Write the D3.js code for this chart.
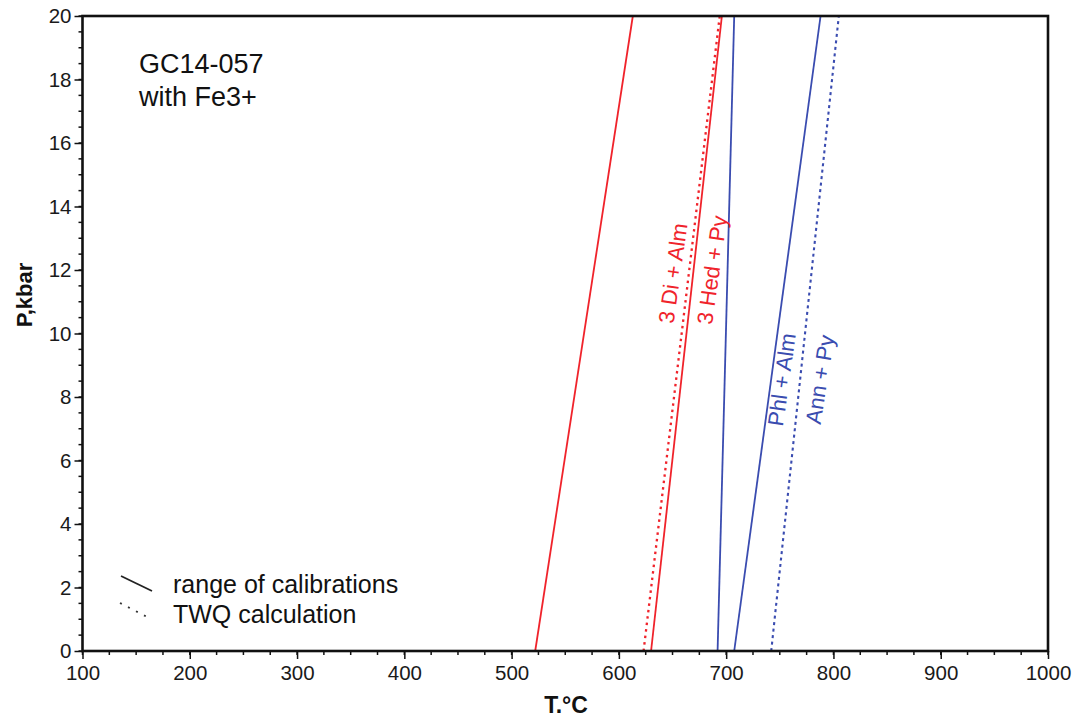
<!DOCTYPE html>
<html>
<head>
<meta charset="utf-8">
<script src="https://cdn.jsdelivr.net/npm/d3@7"></script>
<style>
  html, body { margin: 0; padding: 0; background: #fff; }
  svg { display: block; font-family: "Liberation Sans", Arial, sans-serif; }
</style>
</head>
<body>
<svg id="chart" width="1076" height="719"></svg>
<script>
// Pressure end points (kbar) shared by every equilibrium line
const pressures = [0, 20];

// Temperature (°C) of each reaction line at P = 0 and P = 20 kbar
const cpxGrtLow   = [522, 613];    // Di/Hed – Alm/Py, lower bound of calibrations
const cpxGrtHigh  = [630, 696];    // Di/Hed – Alm/Py, upper bound of calibrations
const cpxGrtTWQ   = [623, 694];    // Di/Hed – Alm/Py, TWQ
const biotGrtLow  = [692, 707.5];  // Phl/Ann – Alm/Py, lower bound
const biotGrtHigh = [707.5, 788];  // Phl/Ann – Alm/Py, upper bound
const biotGrtTWQ  = [742, 805];    // Phl/Ann – Alm/Py, TWQ

// Axis ticks
const xTicks = [100, 200, 300, 400, 500, 600, 700, 800, 900, 1000];
const yTicks = [0, 2, 4, 6, 8, 10, 12, 14, 16, 18, 20];

const RED = "#f0232b";
const BLUE = "#3a4cb0";

const series = [
  { temps: cpxGrtLow,   color: RED,  dash: null,    width: 1.8 },
  { temps: cpxGrtTWQ,   color: RED,  dash: "2.5,4", width: 2.3 },
  { temps: cpxGrtHigh,  color: RED,  dash: null,    width: 1.8 },
  { temps: biotGrtLow,  color: BLUE, dash: null,    width: 1.8 },
  { temps: biotGrtHigh, color: BLUE, dash: null,    width: 1.8 },
  { temps: biotGrtTWQ,  color: BLUE, dash: "3,3.5", width: 2.1 }
];

const svg = d3.select("#chart");
const W = 1076, H = 719;
const margin = { top: 16, right: 28, bottom: 68, left: 82.5 };
const iw = W - margin.left - margin.right;
const ih = H - margin.top - margin.bottom;

const x = d3.scaleLinear().domain([100, 1000]).range([0, iw]);
const y = d3.scaleLinear().domain([0, 20]).range([ih, 0]);

const g = svg.append("g").attr("transform", `translate(${margin.left},${margin.top})`);

// Minor ticks
g.append("g").selectAll("line").data(d3.range(100, 1000.1, 25))
  .join("line")
  .attr("x1", d => x(d)).attr("x2", d => x(d))
  .attr("y1", ih).attr("y2", ih + 4)
  .attr("stroke", "#111").attr("stroke-width", 1.5);
g.append("g").selectAll("line").data(d3.range(0, 20.01, 0.5))
  .join("line")
  .attr("x1", 0).attr("x2", -4)
  .attr("y1", d => y(d)).attr("y2", d => y(d))
  .attr("stroke", "#111").attr("stroke-width", 1.5);

// Axes
const xAxis = g.append("g").attr("transform", `translate(0,${ih})`)
  .call(d3.axisBottom(x).tickValues(xTicks).tickSize(8).tickPadding(6).tickFormat(d3.format("d")));
const yAxis = g.append("g")
  .call(d3.axisLeft(y).tickValues(yTicks).tickSize(8).tickPadding(3).tickFormat(d3.format("d")));
[xAxis, yAxis].forEach(a => {
  a.select(".domain").remove();
  a.selectAll(".tick line").attr("stroke", "#111").attr("stroke-width", 1.5);
  a.selectAll(".tick text").attr("fill", "#1a1a1a").style("font-size", "20.5px")
    .style("font-family", "'Liberation Sans', Arial, sans-serif");
});

// Reaction lines
const line = d3.line().x(d => x(d[0])).y(d => y(d[1]));
g.append("g").selectAll("path").data(series)
  .join("path")
  .attr("d", s => line(s.temps.map((t, i) => [t, pressures[i]])))
  .attr("fill", "none")
  .attr("stroke", s => s.color)
  .attr("stroke-width", s => s.width)
  .attr("stroke-dasharray", s => s.dash);

// Plot frame
g.append("rect").attr("x", 0).attr("y", 0).attr("width", iw).attr("height", ih)
  .attr("fill", "none").attr("stroke", "#111").attr("stroke-width", 2.6);

// Reaction labels, placed along the lines in data coordinates
const reactionLabels = [
  { text: "3 Di + Alm", T: 650.5, P: 11.9, color: RED,  angle: -82 },
  { text: "3 Hed + Py", T: 687,   P: 12.0, color: RED,  angle: -82 },
  { text: "Phl + Alm",  T: 752,   P: 8.55, color: BLUE, angle: -82 },
  { text: "Ann + Py",   T: 787.5, P: 8.55, color: BLUE, angle: -81 }
];
g.append("g").selectAll("text").data(reactionLabels)
  .join("text")
  .attr("transform", d => `translate(${x(d.T)},${y(d.P)}) rotate(${d.angle})`)
  .attr("text-anchor", "middle")
  .attr("dominant-baseline", "central")
  .attr("fill", d => d.color)
  .style("font-size", "22px")
  .text(d => d.text);

// Sample title
const title = svg.append("g").attr("fill", "#111").style("font-size", "27px");
title.append("text").attr("x", 139).attr("y", 73).text("GC14-057");
title.append("text").attr("x", 139).attr("y", 106).text("with Fe3+");

// Legend
const legend = svg.append("g");
legend.append("line").attr("x1", 121).attr("y1", 576).attr("x2", 152).attr("y2", 591)
  .attr("stroke", "#222").attr("stroke-width", 1.8);
legend.append("line").attr("x1", 120).attr("y1", 603).attr("x2", 151).attr("y2", 619)
  .attr("stroke", "#333").attr("stroke-width", 1.8).attr("stroke-dasharray", "2,7");
legend.append("text").attr("x", 173).attr("y", 593).attr("fill", "#111")
  .style("font-size", "25px").text("range of calibrations");
legend.append("text").attr("x", 173).attr("y", 623).attr("fill", "#111")
  .style("font-size", "25px").text("TWQ calculation");

// Axis titles
svg.append("text").attr("x", 566).attr("y", 713).attr("text-anchor", "middle")
  .attr("fill", "#111").style("font-size", "23px").style("font-weight", "bold")
  .text("T.°C");
svg.append("text").attr("transform", "translate(32,295) rotate(-90)")
  .attr("text-anchor", "middle").attr("fill", "#111")
  .style("font-size", "22px").style("font-weight", "bold")
  .text("P,kbar");
</script>
</body>
</html>
